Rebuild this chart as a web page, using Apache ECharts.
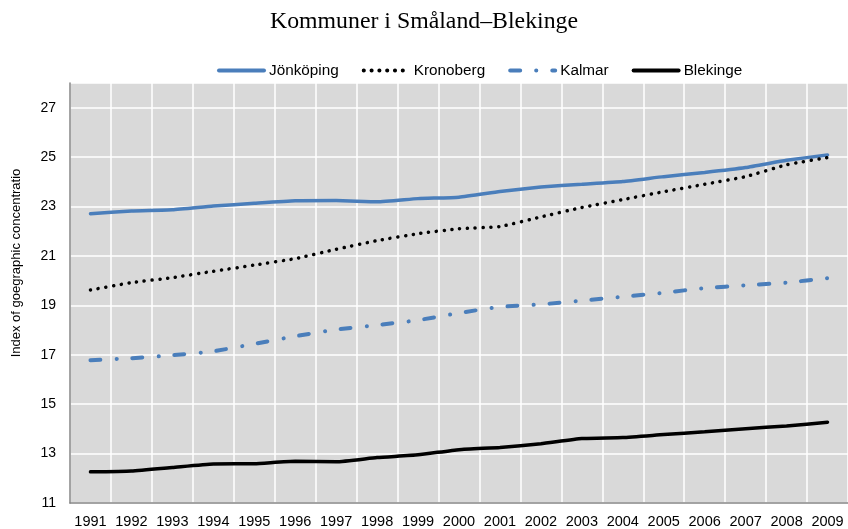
<!DOCTYPE html>
<html>
<head>
<meta charset="utf-8">
<script src="https://cdn.jsdelivr.net/npm/echarts@6/dist/echarts.min.js"></script>
<style>html,body{margin:0;padding:0;background:#fff;}#c{width:848px;height:529px;}</style>
</head>
<body>
<div id="c"></div>
<script>
var years = ['1991','1992','1993','1994','1995','1996','1997','1998','1999','2000','2001','2002','2003','2004','2005','2006','2007','2008','2009'];
var jonkoping = [22.71,22.82,22.87,23.02,23.13,23.23,23.24,23.19,23.32,23.38,23.61,23.79,23.90,24.01,24.21,24.38,24.58,24.87,25.09];
var kronoberg = [19.62,19.92,20.12,20.38,20.63,20.89,21.27,21.62,21.90,22.10,22.19,22.58,22.96,23.28,23.60,23.90,24.21,24.69,24.98];
var kalmar    = [16.78,16.86,16.98,17.14,17.44,17.75,18.02,18.20,18.40,18.69,18.94,19.04,19.19,19.35,19.51,19.70,19.81,19.92,20.10];
var blekinge  = [12.26,12.30,12.44,12.58,12.59,12.69,12.67,12.84,12.95,13.16,13.25,13.40,13.61,13.65,13.77,13.88,14.01,14.12,14.27];
var yMin = 11, yMax = 28, yStep = 2;
var titleText = 'Kommuner i Småland–Blekinge';
var yName = 'Index of goegraphic concentratio';

var chart = echarts.init(document.getElementById('c'), null, {renderer: 'canvas'});
var font = 'Liberation Sans, Arial, sans-serif';
function lineSeries(name, data, color, type, width) {
  return {
    name: name, type: 'line', data: data, symbol: 'none', smooth: 0.15,
    lineStyle: {color: color, width: width, type: type, cap: 'round'},
    itemStyle: {color: color},
    emphasis: {disabled: true}
  };
}
chart.setOption({
  animation: false,
  title: {
    text: titleText, left: 'center', top: 5,
    textStyle: {fontFamily: 'Liberation Serif, Times New Roman, serif', fontWeight: 'normal', fontSize: 23.8, color: '#000'}
  },
  legend: {
    top: 58, left: 212, itemGap: 23, itemWidth: 45, itemHeight: 8,
    textStyle: {fontFamily: font, fontSize: 15.3, color: '#000'},
    itemStyle: {opacity: 0},
    lineStyle: {width: 4},
    data: ['Jönköping','Kronoberg','Kalmar','Blekinge']
  },
  grid: {left: 70, right: -1, top: 83, bottom: 26, show: true, backgroundColor: '#d9d9d9', borderWidth: 0},
  xAxis: {
    type: 'category', data: years, boundaryGap: true,
    axisLine: {lineStyle: {color: '#868686', width: 1.5}},
    axisTick: {show: false},
    axisLabel: {fontFamily: font, fontSize: 14.5, color: '#000', margin: 11, interval: 0},
    splitLine: {show: true, lineStyle: {color: '#ffffff', width: 1.5}}
  },
  yAxis: {
    type: 'value', min: yMin, max: yMax, interval: yStep,
    name: yName, nameLocation: 'middle', nameGap: 47,
    nameTextStyle: {fontFamily: font, fontSize: 13, color: '#000', padding: [0, 0, 0, 60]},
    axisLine: {show: true, lineStyle: {color: '#868686', width: 1.5}},
    axisTick: {show: false},
    axisLabel: {fontFamily: font, fontSize: 14, color: '#000', margin: 14, showMaxLabel: false,
      formatter: function (v) { return v === yMax ? '' : String(v); }},
    splitLine: {show: true, lineStyle: {color: '#ffffff', width: 1.5}}
  },
  series: [
    lineSeries('Jönköping', jonkoping, '#4a7ebb', 'solid', 3.5),
    lineSeries('Kronoberg', kronoberg, '#000000', [0.1, 7.7], 3.5),
    lineSeries('Kalmar', kalmar, '#4a7ebb', [10, 16, 0.1, 16], 4),
    lineSeries('Blekinge', blekinge, '#000000', 'solid', 3.5)
  ]
});
</script>
</body>
</html>
